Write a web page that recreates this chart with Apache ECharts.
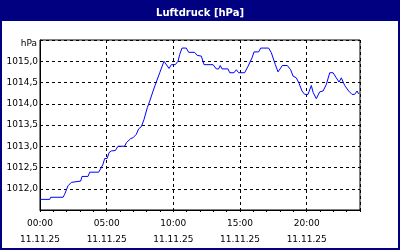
<!DOCTYPE html>
<html>
<head>
<meta charset="utf-8">
<script src="https://cdn.jsdelivr.net/npm/echarts@6/dist/echarts.min.js"></script>
<style>html,body{margin:0;padding:0;background:#fff}#c{width:400px;height:250px}</style>
</head>
<body>
<div id="c"></div>
<script>
// Hours since 00:00 on 11.11.25
const hours = [0,0.73,0.80,1.73,1.85,2.10,2.35,2.48,3.05,3.15,3.60,3.73,4.40,4.60,4.73,4.85,5.03,5.18,5.35,5.65,5.85,6.35,6.47,6.80,6.98,7.22,7.40,7.60,7.80,8.05,8.23,8.48,8.72,8.98,9.30,9.40,9.68,9.85,10.15,10.35,10.48,10.65,10.97,11.15,11.60,11.78,12.10,12.30,12.98,13.22,13.40,13.52,13.65,14.10,14.23,14.55,14.72,14.90,15.35,15.60,15.90,16.05,16.40,16.55,17.15,17.35,17.65,17.85,18.05,18.17,18.55,18.80,18.98,19.22,19.43,19.65,19.85,20.10,20.35,20.48,20.72,20.98,21.23,21.47,21.73,21.98,22.22,22.43,22.60,22.85,23.15,23.40,23.60,23.78,23.90];
const pressure = [1011.75,1011.75,1011.8,1011.8,1011.87,1012.07,1012.15,1012.18,1012.18,1012.29,1012.29,1012.39,1012.39,1012.5,1012.58,1012.71,1012.71,1012.85,1012.89,1012.9,1013.0,1013.0,1013.08,1013.18,1013.2,1013.28,1013.41,1013.46,1013.63,1013.91,1014.06,1014.3,1014.51,1014.73,1015.0,1014.98,1014.83,1014.92,1014.92,1015.0,1015.16,1015.31,1015.31,1015.21,1015.21,1015.14,1015.12,1014.92,1014.92,1014.82,1014.82,1014.9,1014.82,1014.82,1014.73,1014.73,1014.8,1014.73,1014.73,1014.88,1015.08,1015.22,1015.22,1015.31,1015.31,1015.2,1014.92,1014.75,1014.84,1014.9,1014.9,1014.8,1014.65,1014.61,1014.48,1014.3,1014.22,1014.22,1014.43,1014.27,1014.12,1014.28,1014.3,1014.45,1014.73,1014.73,1014.61,1014.51,1014.61,1014.43,1014.3,1014.22,1014.22,1014.3,1014.23];
const dateLabel = '11.11.25';
const titleText = 'Luftdruck [hPa]';
const unitText = 'hPa';

const FONT = 'DejaVu Sans';
const chart = echarts.init(document.getElementById('c'), null, {renderer: 'canvas'});
const dash = [3, 3];
chart.setOption({
  animation: false,
  backgroundColor: '#ffffff',
  title: {
    text: titleText, left: 'center', top: 3,
    textStyle: {color: '#ffffff', fontFamily: FONT, fontSize: 10, fontWeight: 'bold'}
  },
  graphic: [
    {type: 'rect', z: -10, silent: true, shape: {x: 0, y: 0, width: 400, height: 21}, style: {fill: '#000080'}},
    {type: 'rect', z: 100, silent: true, shape: {x: 1, y: 1, width: 398, height: 248}, style: {fill: null, stroke: '#000080', lineWidth: 2}},
    {type: 'text', silent: true, x: 37, y: 44, style: {text: unitText, fill: '#000', font: '9px ' + FONT, align: 'right', verticalAlign: 'middle'}}
  ],
  grid: {left: 40, right: 40, top: 40, bottom: 40, show: true, borderColor: '#000', borderWidth: 1, backgroundColor: 'transparent'},
  xAxis: [
    {
      type: 'value', min: 0, max: 24, interval: 1, position: 'bottom',
      axisLine: {show: true, lineStyle: {color: '#000', width: 1}},
      axisTick: {show: true, length: 2, inside: false, lineStyle: {color: '#000'}},
      axisLabel: {show: false}, splitLine: {show: false}
    },
    {
      type: 'value', min: 0, max: 24, interval: 5, position: 'bottom',
      axisLine: {show: false}, axisTick: {show: false},
      axisLabel: {
        show: true, margin: 6, color: '#000', fontFamily: FONT, fontSize: 9, lineHeight: 16,
        formatter: v => (v % 5 === 0 && v < 24) ? (String(v).padStart(2, '0') + ':00\n' + dateLabel) : ''
      },
      splitLine: {show: true, lineStyle: {color: '#000', width: 1, type: dash}}
    }
  ],
  yAxis: {
    type: 'value', min: 1011.5, max: 1015.5, interval: 0.5,
    axisLine: {show: true, lineStyle: {color: '#000'}},
    axisTick: {show: false},
    axisLabel: {
      margin: 2, color: '#000', fontFamily: FONT, fontSize: 9,
      formatter: v => (v <= 1011.5 || v >= 1015.5) ? '' : v.toFixed(1).replace('.', ',')
    },
    splitLine: {show: true, lineStyle: {color: '#000', width: 1, type: dash}}
  },
  series: [{
    type: 'line', xAxisIndex: 0, symbol: 'none', smooth: false,
    lineStyle: {color: '#0000ff', width: 1},
    data: hours.map((h, i) => [h, pressure[i]])
  }]
});
</script>
</body>
</html>
